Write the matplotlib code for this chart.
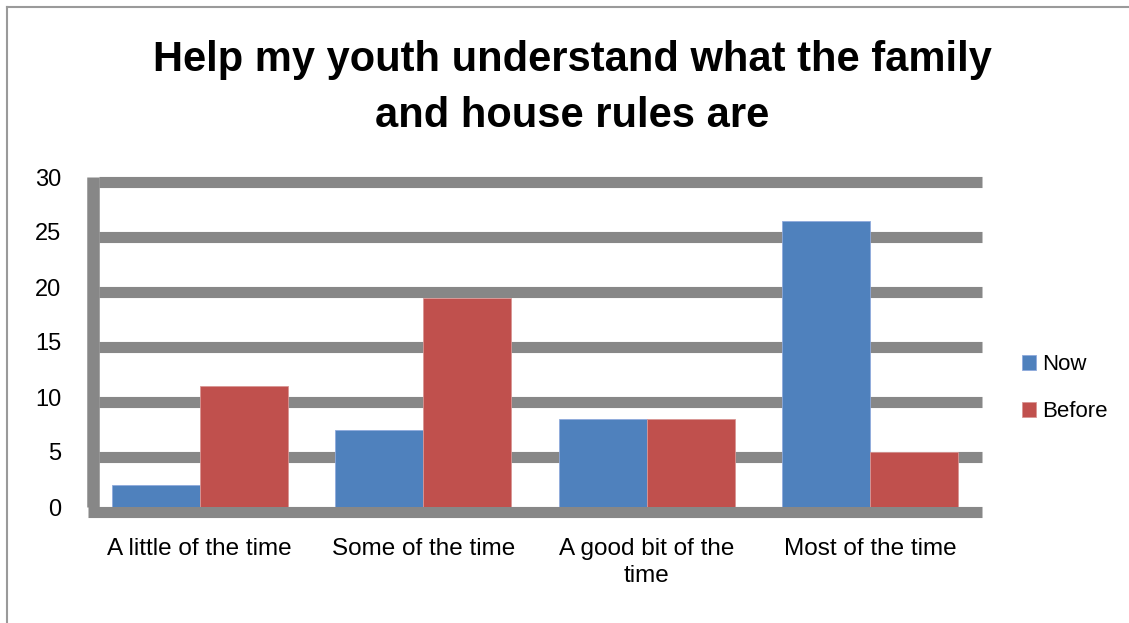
import matplotlib
matplotlib.use("Agg")
import matplotlib.pyplot as plt
import numpy as np
from matplotlib.transforms import ScaledTranslation
from matplotlib.lines import Line2D

categories = ["A little of the time", "Some of the time", "A good bit of the\ntime", "Most of the time"]
now = [2, 7, 8, 26]
before = [11, 19, 8, 5]
yticks = [0, 5, 10, 15, 20, 25, 30]

blue = "#4F81BD"
red = "#C0504D"
grid_c = "#878787"

plt.rcParams["font.family"] = ["Liberation Sans", "DejaVu Sans"]

fig = plt.figure(figsize=(11.29, 6.23), dpi=100)
ax = fig.add_axes([88 / 1129, 1 - 507 / 623, 894 / 1129, 330 / 623])

x = np.arange(len(categories))
w = 0.394
ax.bar(x - w / 2, now, w, color=blue, edgecolor="#8FAADC", linewidth=0.6, label="Now", zorder=3)
ax.bar(x + w / 2, before, w, color=red, edgecolor="#D99694", linewidth=0.6, label="Before", zorder=3)

ax.set_xlim(-0.5, len(categories) - 0.5)
ax.set_ylim(0, 30)

# back wall lines sit a few pixels down/right of the value they mark
shift_down = ax.get_yaxis_transform() + ScaledTranslation(0, -5 / 100, fig.dpi_scale_trans)
for v in yticks:
    x0 = 0 if v == 0 else 11 / 894
    ax.add_line(Line2D([x0, 1], [v, v], transform=shift_down, color=grid_c,
                       lw=8, solid_capstyle="butt", zorder=1, clip_on=False))
shift_right = ax.get_xaxis_transform() + ScaledTranslation(5 / 100, 0, fig.dpi_scale_trans)
ax.add_line(Line2D([-0.5, -0.5], [0, 1], transform=shift_right, color=grid_c,
                   lw=9, solid_capstyle="butt", zorder=2, clip_on=False))

for s in ax.spines.values():
    s.set_visible(False)
ax.set_yticks(yticks)
ax.set_xticks(x)
ax.set_xticklabels(categories, fontsize=17.5, linespacing=1.3)
ax.tick_params(axis="y", length=0, pad=19, labelsize=17)
ax.tick_params(axis="x", length=0, pad=22)

fig.text(0.5066, 0.935, "Help my youth understand what the family\nand house rules are",
         ha="center", va="top", fontsize=30, fontweight="bold", linespacing=1.49)

ax.legend(loc="center left", bbox_to_anchor=(1.0447, 0.3595), frameon=False, fontsize=16,
          handlelength=0.63, handleheight=0.63, handletextpad=0.27, labelspacing=1.17,
          borderpad=0, borderaxespad=0)

# chart frame
fig.add_artist(Line2D([7 / 1129, 1], [1 - 7 / 623, 1 - 7 / 623], transform=fig.transFigure,
                      color="#9A9A9A", lw=1.5))
fig.add_artist(Line2D([7 / 1129, 7 / 1129], [0, 1 - 7 / 623], transform=fig.transFigure,
                      color="#9A9A9A", lw=1.5))

fig.savefig("out.png", dpi=100)
